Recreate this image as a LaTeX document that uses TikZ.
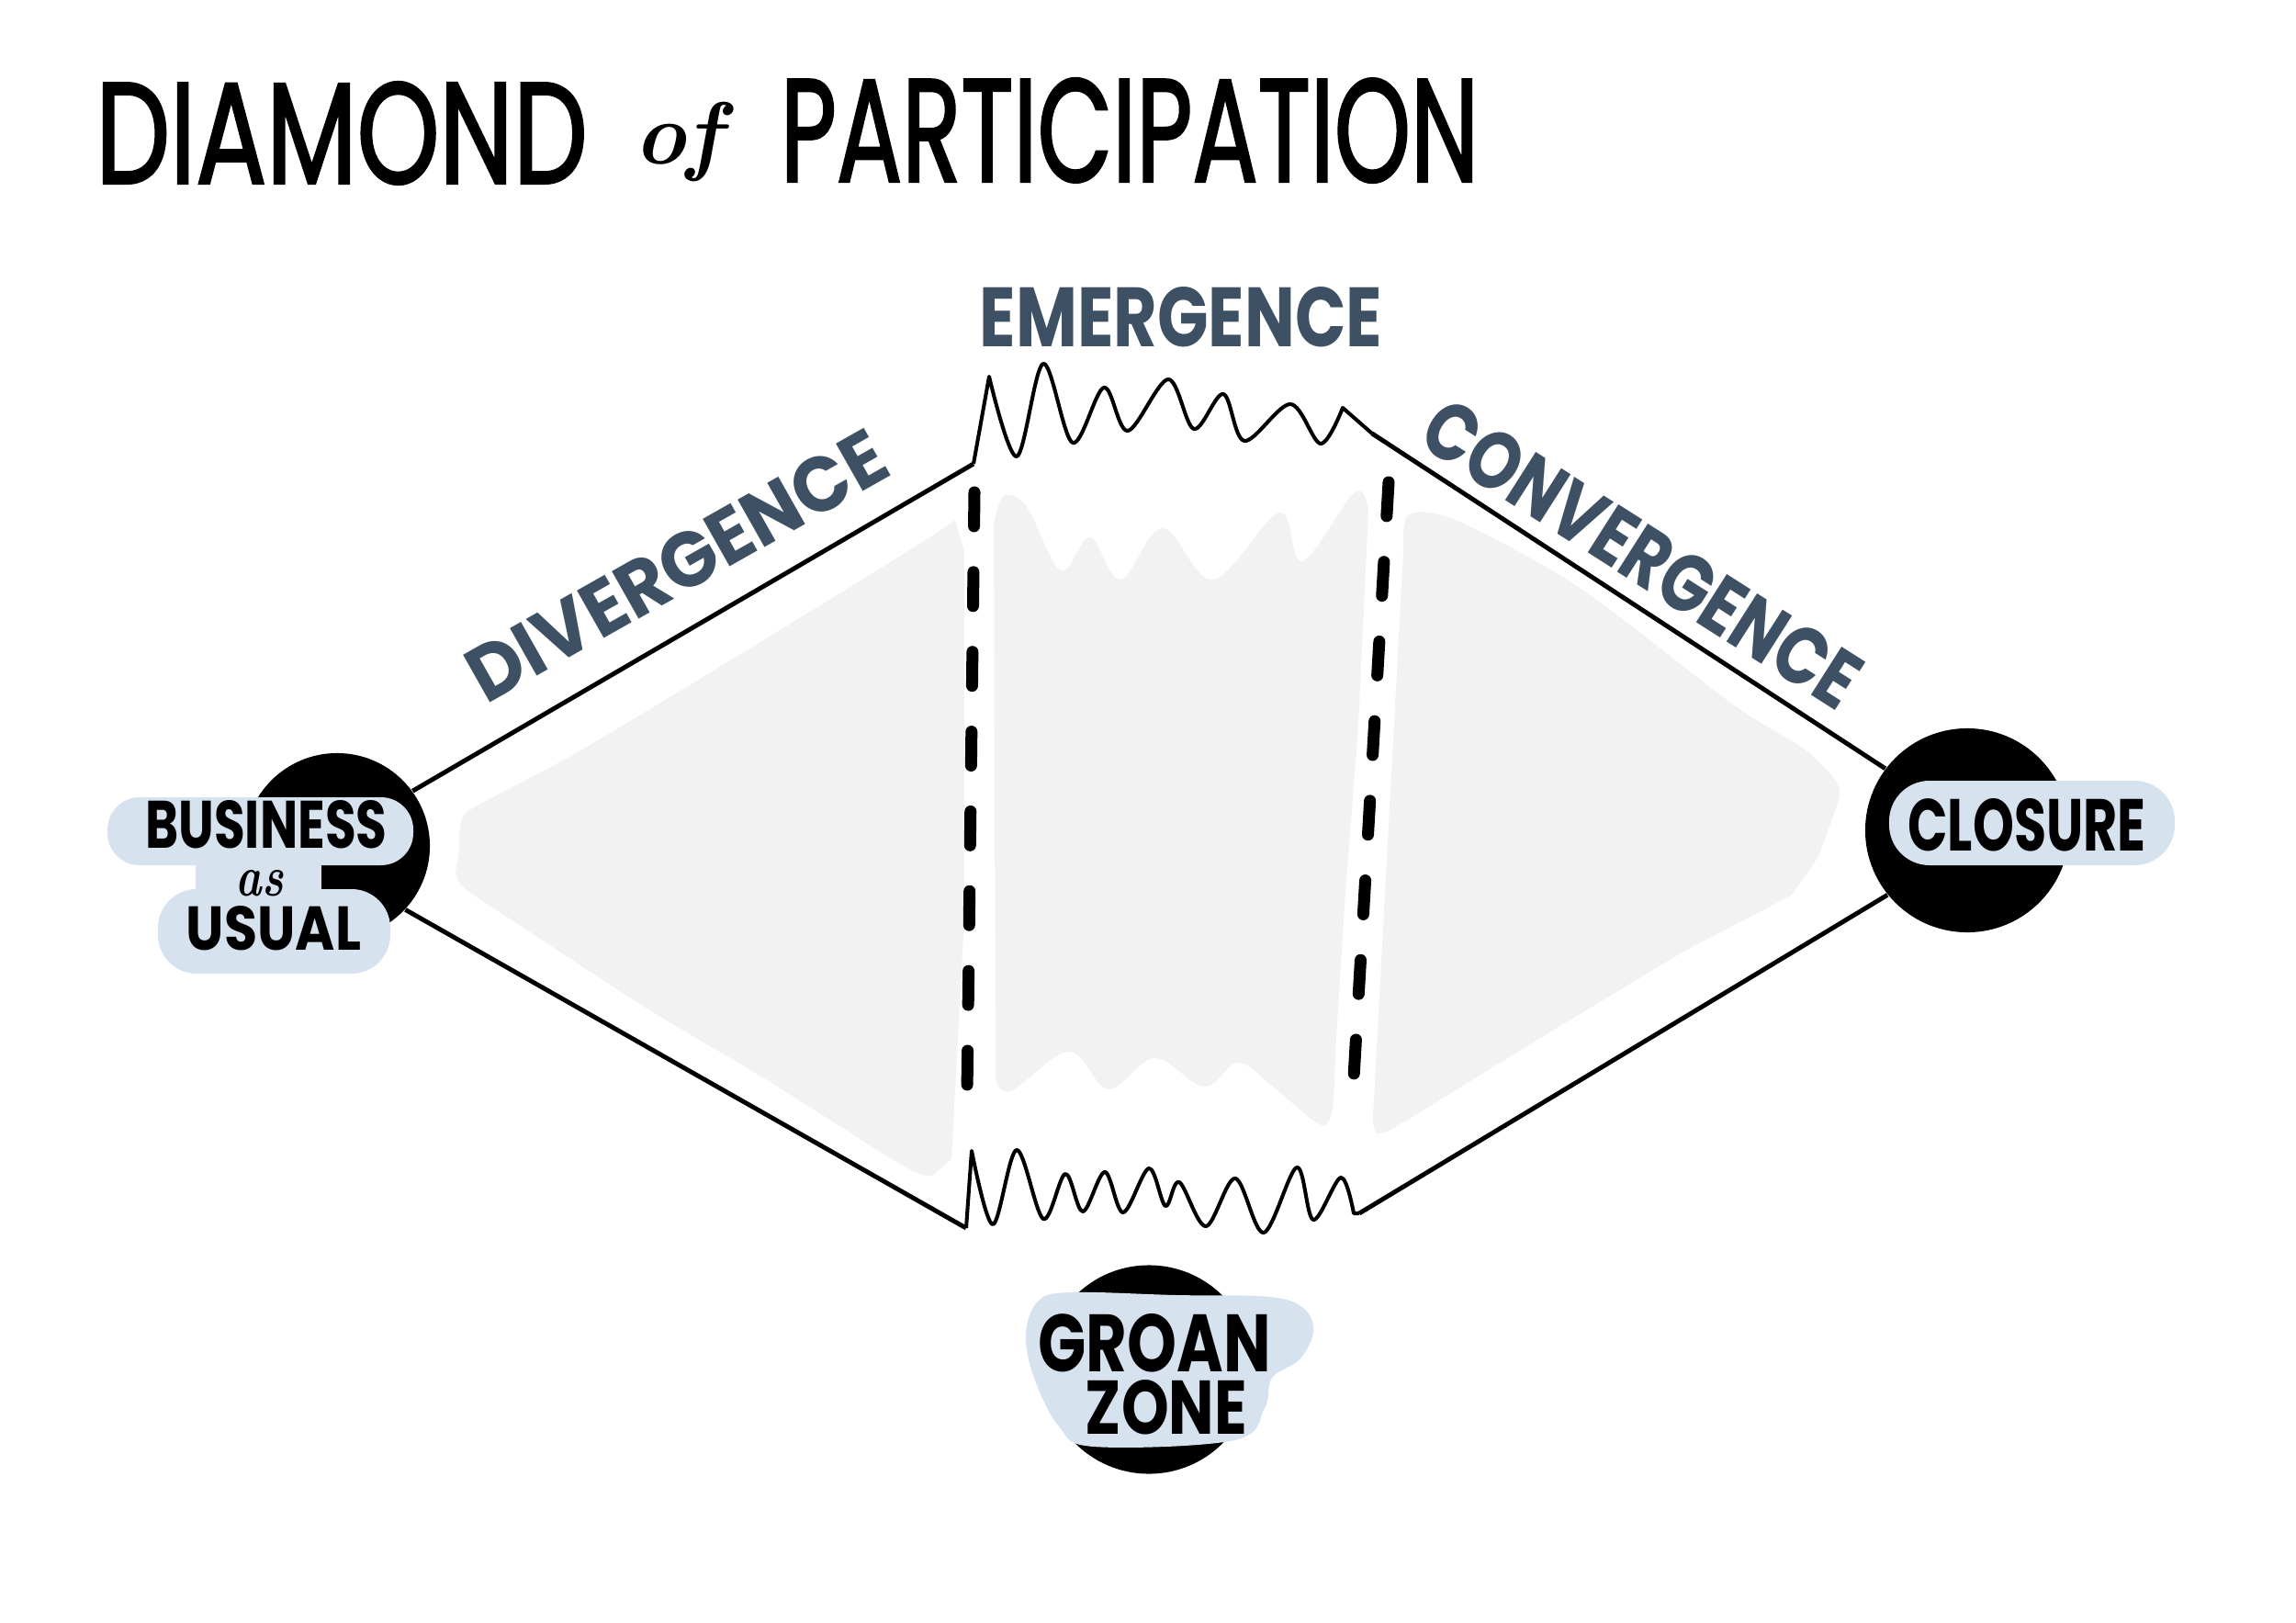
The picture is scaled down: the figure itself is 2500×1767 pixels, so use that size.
\documentclass[tikz,border=0pt]{standalone}
\usepackage{fontspec}
\usepackage{graphicx}
\newfontfamily\handfont{Poppins}
\newfontfamily\titlefont[FakeBold=2]{Poppins}
\definecolor{slate}{HTML}{3E5063}
\definecolor{paleblue}{HTML}{D6E2EE}
\definecolor{fog}{HTML}{F2F2F2}
\newcommand{\fitword}[3]{\resizebox{#1}{#2}{\handfont\bfseries #3}}

\begin{document}
\begin{tikzpicture}[x=0.01cm,y=-0.01cm,
  edge/.style={line width=1.4pt},
  wave/.style={line width=1.15pt,line join=round},
  divider/.style={line width=3.7pt,line cap=round,dash pattern=on 10.5pt off 14.2pt},
  disc/.style={circle,fill=black,inner sep=0pt},
  blob/.style={fill=paleblue},
  zone/.style={fill=fog},
  word/.style={inner sep=0pt}]
\useasboundingbox (0,0) rectangle (2500,1767);

% grey areas
\fill[zone] plot[smooth,tension=0.5] coordinates {(500,927) (502,895) (518,878) (627,820) (800,716) (1000,593) (1040,566)}
  -- (1050,600) -- (1050,1000) -- (1036,1262)
  -- plot[smooth,tension=0.5] coordinates {(1020,1276) (990,1273) (837,1177) (703,1097) (570,1010) (507,968) (496,950)} -- cycle;
\fill[zone] plot[smooth,tension=0.6] coordinates {(1082,570) (1093,540) (1118,552) (1155,621) (1187,585) (1220,631) (1266,575) (1321,631) (1393,558) (1418,611) (1475,536) (1490,556)}
  -- (1479,791) -- (1464,985) -- (1455,1130)
  -- plot[smooth,tension=0.6] coordinates {(1452,1200) (1439,1225) (1386,1183) (1348,1157) (1311,1183) (1257,1152) (1207,1186) (1164,1145) (1100,1188) (1084,1172)} -- cycle;
\fill[zone] plot[smooth,tension=0.5] coordinates {(1528,600) (1534,560) (1587,567) (1720,640) (1887,767) (1961,813) (1995,845) (2003,865) (1990,905) (1978,935) (1950,975)}
  -- plot[smooth,tension=0.5] coordinates {(1833,1036) (1674,1132) (1531,1220) (1500,1234) (1495,1215)} -- cycle;

% stages
\node[disc,minimum size=2.02cm] (usual) at (367,921) {};
\node[disc,minimum size=2.22cm] (closure) at (2142,904) {};
\node[disc,minimum size=2.27cm] (groan) at (1251,1491) {};
\coordinate (emL) at (1060,505); \coordinate (emR) at (1494,472);
\coordinate (grL) at (1052,1337); \coordinate (grR) at (1480,1321);

\draw[edge] (usual.36) -- (emL);
\draw[edge] (usual.-43) -- (grL);
\draw[edge] (emR) -- (closure.143);
\draw[edge] (grR) -- (closure.219);
\draw[wave] (emL) -- plot[smooth,tension=0.55] coordinates {(1077,410) (1107,497) (1136,396) (1168,482) (1202,422) (1228,469) (1272,413) (1300,467) (1332,429) (1355,480) (1405,440) (1438,483) (1462,444)} -- (emR);
\draw[wave] (grL) -- plot[smooth,tension=0.55] coordinates {(1058,1253) (1081,1333) (1107,1252) (1136,1327) (1160,1278) (1179,1319) (1203,1276) (1223,1320) (1251,1272) (1269,1313) (1284,1287) (1313,1335) (1345,1283) (1376,1342) (1412,1271) (1430,1328) (1460,1282) (1474,1321)} -- (grR);

% dashed borders
\coordinate (dvTop) at (1061,536); \coordinate (dvBot) at (1053,1190);
\coordinate (cvTop) at (1512,525); \coordinate (cvBot) at (1473,1190);
\draw[divider] (dvTop) -- (dvBot);
\draw[divider] (cvTop) -- (cvBot);

% labels on blobs
\fill[blob,rounded corners=10pt] (117,868) rectangle (450,942);
\fill[blob] (213,930) rectangle (350,985);
\fill[blob,rounded corners=12pt] (172,968) rectangle (425,1060);
\fill[blob,rounded corners=12.5pt] (2057,850) rectangle (2368,942);
\fill[blob] plot[smooth cycle,tension=0.6] coordinates {(1130,1417) (1165,1407) (1280,1410) (1383,1412) (1420,1425) (1430,1450) (1415,1480) (1385,1500) (1377,1533) (1344,1568) (1191,1575) (1153,1553) (1126,1500) (1117,1453)};

\node[word] (bizword) at (290,898) {\fitword{2.63cm}{0.52cm}{BUSINESS}};
\node[word] (asword) at (283,962) {\resizebox{0.52cm}{0.28cm}{\bfseries\itshape as}};
\node[word] (usualword) at (298,1011) {\fitword{1.9cm}{0.48cm}{USUAL}};
\node[word] (closeword) at (2207,898) {\fitword{2.59cm}{0.57cm}{CLOSURE}};
\node[word] (groanword) at (1257,1462) {\fitword{2.53cm}{0.63cm}{GROAN}};
\node[word] (zoneword) at (1270,1532) {\fitword{1.76cm}{0.59cm}{ZONE}};

% phase names
\node[word,text=slate] (emword) at (1286,345) {\fitword{4.38cm}{0.65cm}{EMERGENCE}};
\node[word,text=slate,rotate=29.5] (divword) at (737,616) {\fitword{5.1cm}{0.6cm}{DIVERGENCE}};
\node[word,text=slate,rotate=-32.5] (convword) at (1788,603) {\fitword{5.45cm}{0.63cm}{CONVERGENCE}};

% title
\node[word] (titleA) at (372,145) {\resizebox{5.35cm}{1.1cm}{\titlefont DIAMOND}};
\node[word] (titleof) at (738,155) {\resizebox{0.95cm}{!}{\bfseries\itshape of}};
\node[word] (titleB) at (1230,142) {\resizebox{7.6cm}{1.12cm}{\titlefont PARTICIPATION}};
\end{tikzpicture}
\end{document}
